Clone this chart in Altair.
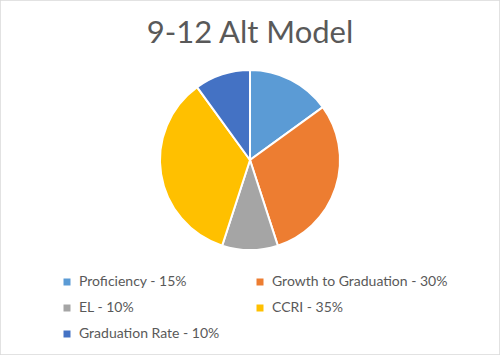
import altair as alt
import pandas as pd

categories = ["Proficiency - 15%", "Growth to Graduation - 30%", "EL - 10%", "CCRI - 35%", "Graduation Rate - 10%"]
values = [15, 30, 10, 35, 10]
colors = ["#5B9BD5", "#ED7D31", "#A5A5A5", "#FFC000", "#4472C4"]

df = pd.DataFrame({"category": categories, "value": values, "order": list(range(len(categories)))})

chart = alt.Chart(df).mark_arc(radius=90, stroke="white", strokeWidth=2).encode(
    theta=alt.Theta("value:Q", stack=True),
    order=alt.Order("order:Q"),
    color=alt.Color(
        "category:N",
        scale=alt.Scale(domain=categories, range=colors),
        legend=alt.Legend(
            title=None,
            orient="none",
            direction="horizontal",
            legendX=60,
            legendY=275,
            columns=2,
            columnPadding=33,
            rowPadding=12,
            symbolType="square",
            symbolSize=49,
            symbolStrokeWidth=0,
            labelFont="Lato",
            labelFontSize=14,
            labelColor="#595959",
            labelOffset=5,
            labelLimit=300,
        ),
    ),
    x=alt.value(250),
    y=alt.value(160),
).properties(
    width=500,
    height=355,
    autosize=alt.AutoSizeParams(type="none"),
    padding=0,
    title=alt.TitleParams(
        "9-12 Alt Model",
        font="Lato",
        fontSize=31,
        fontWeight="normal",
        color="#595959",
        anchor="middle",
        baseline="alphabetic",
        offset=-43,
        dy=31,
    ),
).configure_view(stroke="#D9D9D9", strokeWidth=1.5)

chart.save("out.html", embed_options={"renderer": "svg", "actions": False})
